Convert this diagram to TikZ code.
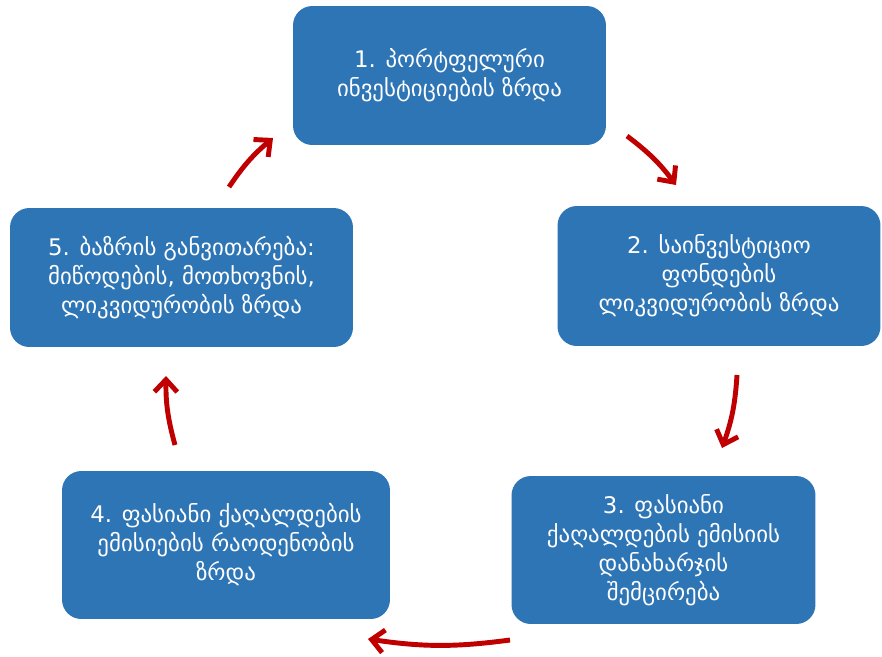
\documentclass[tikz,border=0pt]{standalone}
\usepackage{fontspec}
\setmainfont{DejaVu Sans}
\usetikzlibrary{arrows.meta}
\definecolor{boxblue}{RGB}{46,117,182}
\definecolor{arrowred}{RGB}{192,0,0}

\begin{document}
\begin{tikzpicture}[
	x=0.02cm, y=-0.02cm,
	stage/.style={ rectangle, rounded corners=11pt, fill=boxblue, text=white, align=center, inner sep=0pt, font=\fontsize{13}{16.5}\selectfont },
	cycle/.style={ arrowred, line width=2.8pt, -{Straight Barb[length=7pt,width=13pt]} }
]
\useasboundingbox (0,0) rectangle (882,656);

\node at (449.5,75.5) (one) [stage,minimum width=6.26cm,minimum height=2.78cm] {1. პორტფელური\\ინვესტიციების ზრდა};
\node at (719,276) (two) [stage,minimum width=6.46cm,minimum height=2.80cm] {2. საინვესტიციო\\ფონდების\\ლიკვიდურობის ზრდა};
\node at (663.5,550) (three) [stage,minimum width=6.08cm,minimum height=2.96cm] {3. ფასიანი\\ქაღალდების ემისიის\\დანახარჯის\\შემცირება};
\node at (226,545) (four) [stage,minimum width=6.56cm,minimum height=2.96cm] {4. ფასიანი ქაღალდების\\ემისიების რაოდენობის\\ზრდა};
\node at (181.5,277.5) (five) [stage,minimum width=6.86cm,minimum height=2.78cm] {5. ბაზრის განვითარება:\\მიწოდების, მოთხოვნის,\\ლიკვიდურობის ზრდა};

\coordinate (a1s) at (627,136);
\coordinate (a1e) at (676,185);
\coordinate (a2s) at (737,375);
\coordinate (a2e) at (722,448);
\coordinate (a3s) at (510,640);
\coordinate (a3e) at (368,639);
\coordinate (a4s) at (175,445);
\coordinate (a4e) at (166,376);
\coordinate (a5s) at (229,187);
\coordinate (a5e) at (273,138);

\draw[cycle] (a1s) to[bend left=8] (a1e);
\draw[cycle] (a2s) to[bend left=8] (a2e);
\draw[cycle] (a3s) to[bend left=8] (a3e);
\draw[cycle] (a4s) to[bend left=8] (a4e);
\draw[cycle] (a5s) to[bend left=8] (a5e);

\end{tikzpicture}
\end{document}
